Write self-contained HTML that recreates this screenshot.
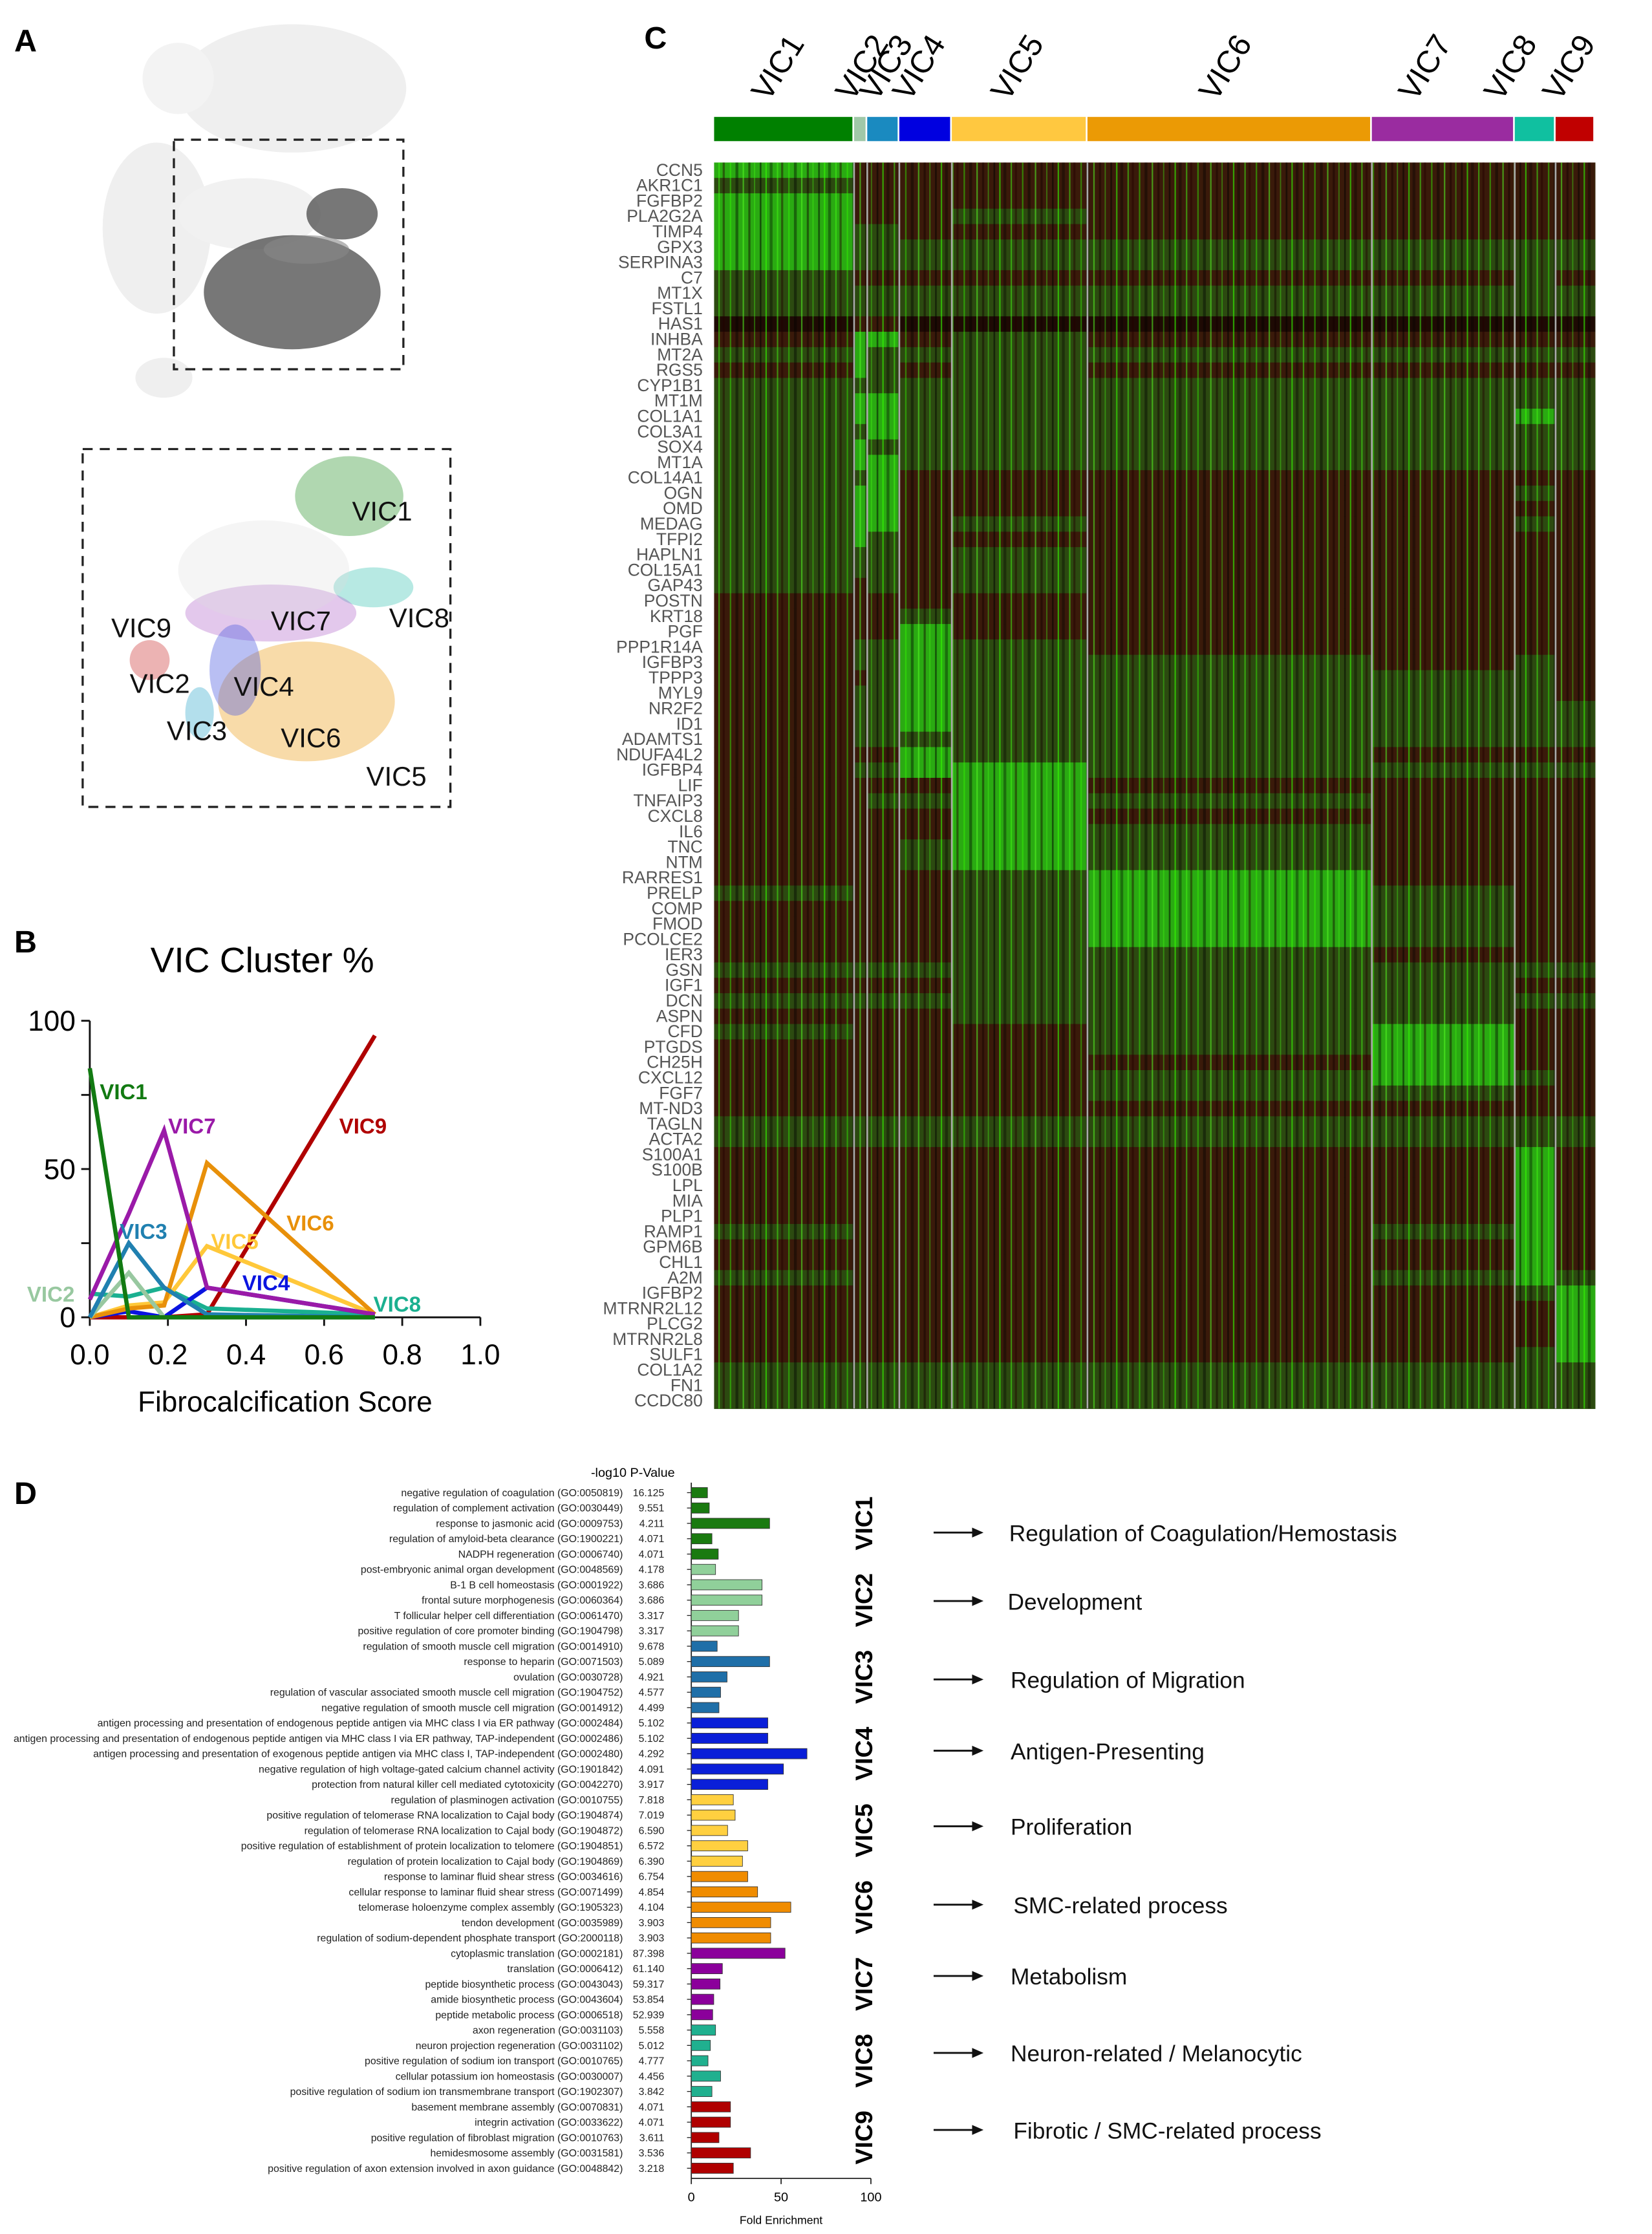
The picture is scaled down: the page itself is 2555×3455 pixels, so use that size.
<!DOCTYPE html>
<html><head><meta charset="utf-8"><style>
html,body{margin:0;padding:0;background:#fff}
svg{display:block}
text{font-family:"Liberation Sans",sans-serif}
</style></head><body>
<svg id="fig" xmlns="http://www.w3.org/2000/svg" width="2555" height="3455" viewBox="0 0 1159 1567" preserveAspectRatio="none">
<defs>
<pattern id="stripes" width="41" height="10.8" patternUnits="userSpaceOnUse">
<rect x="0" y="0" width="1.2" height="10.8" fill="#000" opacity="0.5"/>
<rect x="4" y="0" width="1" height="10.8" fill="#3f0" opacity="0.6"/>
<rect x="7" y="0" width="2" height="10.8" fill="#000" opacity="0.35"/>
<rect x="12" y="0" width="1" height="10.8" fill="#4f1" opacity="0.5"/>
<rect x="15" y="0" width="1.5" height="10.8" fill="#200" opacity="0.45"/>
<rect x="20" y="0" width="1" height="10.8" fill="#3f0" opacity="0.45"/>
<rect x="24" y="0" width="2" height="10.8" fill="#000" opacity="0.4"/>
<rect x="29" y="0" width="1" height="10.8" fill="#5f2" opacity="0.55"/>
<rect x="33" y="0" width="1.5" height="10.8" fill="#100" opacity="0.45"/>
<rect x="37" y="0" width="0.8" height="10.8" fill="#4f1" opacity="0.4"/>
</pattern>
</defs>

<g>
<text x="10" y="36" font-size="22" font-weight="bold">A</text>
<g>
<ellipse cx="205" cy="62" rx="80" ry="45" fill="#efefef"/>
<ellipse cx="125" cy="55" rx="25" ry="25" fill="#f3f3f3"/>
<ellipse cx="110" cy="160" rx="38" ry="60" fill="#efefef"/>
<ellipse cx="175" cy="150" rx="50" ry="25" fill="#f1f1f1"/>
<ellipse cx="115" cy="265" rx="20" ry="14" fill="#efefef"/>
<ellipse cx="205" cy="205" rx="62" ry="40" fill="#555" opacity="0.8"/>
<ellipse cx="240" cy="150" rx="25" ry="18" fill="#555" opacity="0.8"/>
<ellipse cx="215" cy="175" rx="30" ry="10" fill="#888" opacity="0.6"/>
<rect x="122" y="98" width="161" height="161" fill="none" stroke="#222" stroke-width="1.5" stroke-dasharray="7,5"/>
</g>
<g>
<ellipse cx="245" cy="348" rx="38" ry="28" fill="#3a9a3a" opacity="0.4"/>
<ellipse cx="262" cy="412" rx="28" ry="14" fill="#30c0b0" opacity="0.35"/>
<ellipse cx="190" cy="430" rx="60" ry="20" fill="#b060c8" opacity="0.35"/>
<ellipse cx="215" cy="492" rx="62" ry="42" fill="#f0b040" opacity="0.45"/>
<ellipse cx="165" cy="470" rx="18" ry="32" fill="#5060e0" opacity="0.4"/>
<ellipse cx="105" cy="463" rx="14" ry="14" fill="#d04040" opacity="0.4"/>
<ellipse cx="140" cy="500" rx="10" ry="18" fill="#40b0d0" opacity="0.4"/>
<ellipse cx="185" cy="400" rx="60" ry="35" fill="#ddd" opacity="0.3"/>
<rect x="58" y="315" width="258" height="251" fill="none" stroke="#222" stroke-width="1.5" stroke-dasharray="7,5"/>
<g font-size="19" fill="#111">
<text x="247" y="365">VIC1</text>
<text x="273" y="440">VIC8</text>
<text x="78" y="447">VIC9</text>
<text x="190" y="442">VIC7</text>
<text x="91" y="486">VIC2</text>
<text x="164" y="488">VIC4</text>
<text x="117" y="519">VIC3</text>
<text x="197" y="524">VIC6</text>
<text x="257" y="551">VIC5</text>
</g>
</g>
</g>

<g id="panelB">
<text x="10" y="668" font-size="22" font-weight="bold">B</text>
<text x="184" y="682" font-size="25" text-anchor="middle">VIC Cluster %</text>
<text x="200" y="990" font-size="20" text-anchor="middle">Fibrocalcification Score</text>
</g>

<g id="panelC">
<text x="452" y="34" font-size="22" font-weight="bold">C</text>
</g>

<g id="panelD">
<text x="10" y="1055" font-size="22" font-weight="bold">D</text>
<text x="444" y="1036" font-size="9" text-anchor="middle">-log10 P-Value</text>
</g>

<script>
const bScores = [0, 0.1, 0.19, 0.3, 0.73];
const bTicksX = [0, 0.2, 0.4, 0.6, 0.8, 1.0];
const bTickLabelsX = ["0.0","0.2","0.4","0.6","0.8","1.0"];
const bTicksY = [0, 25, 50, 75, 100];
const bTickLabelsY = ["0","","50","","100"];
const bVIC1 = [84, 0, 0, 0, 0];
const bVIC2 = [0, 15, 0, 0, 0];
const bVIC3 = [0, 25, 10, 1, 0];
const bVIC4 = [0, 2, 0, 10, 1];
const bVIC5 = [0, 4, 5, 24, 1];
const bVIC6 = [0, 3, 4, 52, 1];
const bVIC7 = [6, 35, 63, 10, 1];
const bVIC8 = [8, 7, 10, 3, 1];
const bVIC9 = [0, 0, 0, 1, 95];

const cClusters = ["VIC1","VIC2","VIC3","VIC4","VIC5","VIC6","VIC7","VIC8","VIC9"];
const cClusterCells = [96, 9, 22, 36, 93, 195, 98, 28, 27];
const cGenes = ["CCN5","AKR1C1","FGFBP2","PLA2G2A","TIMP4","GPX3","SERPINA3","C7","MT1X","FSTL1","HAS1","INHBA","MT2A","RGS5","CYP1B1","MT1M","COL1A1","COL3A1","SOX4","MT1A","COL14A1","OGN","OMD","MEDAG","TFPI2","HAPLN1","COL15A1","GAP43","POSTN","KRT18","PGF","PPP1R14A","IGFBP3","TPPP3","MYL9","NR2F2","ID1","ADAMTS1","NDUFA4L2","IGFBP4","LIF","TNFAIP3","CXCL8","IL6","TNC","NTM","RARRES1","PRELP","COMP","FMOD","PCOLCE2","IER3","GSN","IGF1","DCN","ASPN","CFD","PTGDS","CH25H","CXCL12","FGF7","MT-ND3","TAGLN","ACTA2","S100A1","S100B","LPL","MIA","PLP1","RAMP1","GPM6B","CHL1","A2M","IGFBP2","MTRNR2L12","PLCG2","MTRNR2L8","SULF1","COL1A2","FN1","CCDC80"];
const cLevels = ["311111111","211111111","311111111","311121111","322111111","322222222","322222222","211111121","222222222","222222222","011000000","133121111","232222222","132121111","222222222","233222222","233222232","223222222","232222222","233222222","223111111","233111121","233111111","233121121","232111111","222121111","222121111","212121111","111111111","111211111","111311111","122321111","122322121","112322221","122322221","122322222","122322222","122222222","111322111","122332222","111131111","112232111","111131111","111132111","111232111","111232111","111123111","211123211","111123211","111123211","111123211","111122111","222222222","111122211","222222222","111122211","211112311","111112311","111111311","111112321","111112211","111111111","222222222","222222222","111111131","111111131","111111131","111111131","111111131","211111231","111111131","111111131","211111232","111111123","111111113","111111113","111111113","111111123","222222222","222222222","222222222"];

const dTerms = ["negative regulation of coagulation (GO:0050819)","regulation of complement activation (GO:0030449)","response to jasmonic acid (GO:0009753)","regulation of amyloid-beta clearance (GO:1900221)","NADPH regeneration (GO:0006740)","post-embryonic animal organ development (GO:0048569)","B-1 B cell homeostasis (GO:0001922)","frontal suture morphogenesis (GO:0060364)","T follicular helper cell differentiation (GO:0061470)","positive regulation of core promoter binding (GO:1904798)","regulation of smooth muscle cell migration (GO:0014910)","response to heparin (GO:0071503)","ovulation (GO:0030728)","regulation of vascular associated smooth muscle cell migration (GO:1904752)","negative regulation of smooth muscle cell migration (GO:0014912)","antigen processing and presentation of endogenous peptide antigen via MHC class I via ER pathway (GO:0002484)","antigen processing and presentation of endogenous peptide antigen via MHC class I via ER pathway, TAP-independent (GO:0002486)","antigen processing and presentation of exogenous peptide antigen via MHC class I, TAP-independent (GO:0002480)","negative regulation of high voltage-gated calcium channel activity (GO:1901842)","protection from natural killer cell mediated cytotoxicity (GO:0042270)","regulation of plasminogen activation (GO:0010755)","positive regulation of telomerase RNA localization to Cajal body (GO:1904874)","regulation of telomerase RNA localization to Cajal body (GO:1904872)","positive regulation of establishment of protein localization to telomere (GO:1904851)","regulation of protein localization to Cajal body (GO:1904869)","response to laminar fluid shear stress (GO:0034616)","cellular response to laminar fluid shear stress (GO:0071499)","telomerase holoenzyme complex assembly (GO:1905323)","tendon development (GO:0035989)","regulation of sodium-dependent phosphate transport (GO:2000118)","cytoplasmic translation (GO:0002181)","translation (GO:0006412)","peptide biosynthetic process (GO:0043043)","amide biosynthetic process (GO:0043604)","peptide metabolic process (GO:0006518)","axon regeneration (GO:0031103)","neuron projection regeneration (GO:0031102)","positive regulation of sodium ion transport (GO:0010765)","cellular potassium ion homeostasis (GO:0030007)","positive regulation of sodium ion transmembrane transport (GO:1902307)","basement membrane assembly (GO:0070831)","integrin activation (GO:0033622)","positive regulation of fibroblast migration (GO:0010763)","hemidesmosome assembly (GO:0031581)","positive regulation of axon extension involved in axon guidance (GO:0048842)"];
const dPvals = ["16.125","9.551","4.211","4.071","4.071","4.178","3.686","3.686","3.317","3.317","9.678","5.089","4.921","4.577","4.499","5.102","5.102","4.292","4.091","3.917","7.818","7.019","6.590","6.572","6.390","6.754","4.854","4.104","3.903","3.903","87.398","61.140","59.317","53.854","52.939","5.558","5.012","4.777","4.456","3.842","4.071","4.071","3.611","3.536","3.218"];
const dFold = [9,10,43.6,11.5,15,13.5,39.4,39.4,26.3,26.3,14.4,43.6,19.9,16.3,15.4,42.6,42.6,64.4,51.3,42.6,23.4,24.4,20.2,31.4,28.5,31.4,36.9,55.4,44.2,44.2,52.2,17.3,16,12.5,11.9,13.5,10.6,9.3,16.3,11.5,21.8,21.8,15.4,33,23.4];
const dGroup = [0,0,0,0,0,1,1,1,1,1,2,2,2,2,2,3,3,3,3,3,4,4,4,4,4,5,5,5,5,5,6,6,6,6,6,7,7,7,7,7,8,8,8,8,8];
const dTicks = [0, 50, 100];
const dProcesses = ["Regulation of Coagulation/Hemostasis","Development","Regulation of Migration","Antigen-Presenting","Proliferation","SMC-related process","Metabolism","Neuron-related / Melanocytic","Fibrotic / SMC-related process"];

const NS = "http://www.w3.org/2000/svg";
function mk(tag, attrs, parent, txt){
  const e = document.createElementNS(NS, tag);
  for (const k in attrs) e.setAttribute(k, attrs[k]);
  if (txt !== undefined) e.textContent = txt;
  parent.appendChild(e);
  return e;
}

(function(){
  const g = document.getElementById('panelB');
  const x0 = 63, x1 = 337, y0 = 924, y1 = 716;
  const sx = v => x0 + (x1 - x0) * v;
  const sy = v => y0 - (y0 - y1) * v / 100;
  let ax = mk('line', {x1:x0, y1:y1, x2:x0, y2:y0, stroke:'#111', 'stroke-width':1.3}, g);
  
  
  let bx = mk('line', {x1:x0, y1:y0, x2:x1, y2:y0, stroke:'#111', 'stroke-width':1.3}, g);
  
  
  bTicksY.forEach((t, i) => {
    mk('line', {x1:x0-6, y1:sy(t), x2:x0, y2:sy(t), stroke:'#111', 'stroke-width':1.3}, g);
    if (bTickLabelsY[i]) {
      const tl = mk('text', {x:x0-10, y:sy(t)+7, 'font-size':20, 'text-anchor':'end'}, g, bTickLabelsY[i]);
      
      
    }
  });
  bTicksX.forEach((t, i) => {
    mk('line', {x1:sx(t), y1:y0, x2:sx(t), y2:y0+6, stroke:'#111', 'stroke-width':1.3}, g);
    const tl = mk('text', {x:sx(t), y:y0+33, 'font-size':20, 'text-anchor':'middle'}, g, bTickLabelsX[i]);
    
    
  });
  const series = [
    ['vic9', bVIC9, '#b00000'], ['vic8', bVIC8, '#1ab090'], ['vic4', bVIC4, '#0a14e0'],
    ['vic5', bVIC5, '#ffc83a'], ['vic6', bVIC6, '#e8900a'], ['vic2', bVIC2, '#98c8a0'],
    ['vic3', bVIC3, '#2080b0'], ['vic7', bVIC7, '#9a1aa8'], ['vic1', bVIC1, '#127a12']
  ];
  series.forEach(s => {
    const pts = s[1].map((v, i) => sx(bScores[i]).toFixed(1) + ',' + sy(v).toFixed(1)).join(' ');
    const pl = mk('polyline', {points:pts, fill:'none', stroke:s[2], 'stroke-width':3, 'stroke-linejoin':'miter'}, g);
    
    
  });
  const labs = [['VIC1',70,771,'#127a12'],['VIC7',118,795,'#9a1aa8'],['VIC9',238,795,'#b00000'],['VIC3',84,869,'#2080b0'],['VIC5',148,876,'#ffc83a'],['VIC6',201,863,'#e8900a'],['VIC4',170,905,'#0a14e0'],['VIC2',19,913,'#98c8a0'],['VIC8',262,920,'#1ab090']];
  labs.forEach(l => {
    const t = mk('text', {x:l[1], y:l[2], 'font-size':15, 'font-weight':'bold', fill:l[3]}, g, l[0]);
    
    
  });
})();

(function(){
  const g = document.getElementById('panelC');
  const barColors = ['#008000','#a0c8a8','#1a8ac0','#0000e0','#ffc840','#eb9a05','#9a2ca0','#10c0a0','#c00000'];
  const hx0 = 501, hx1 = 1119, hy0 = 114, hy1 = 988;
  const total = cClusterCells.reduce((a,b)=>a+b,0);
  const colX = c => hx0 + (hx1 - hx0) * c / total;
  const rowH = (hy1 - hy0) / cGenes.length;
  const levelColors = ['#1e0a04','#3a1a0a','#2c4a10','#2aaa12'];
  let cum = 0;
  const bounds = [];
  cClusters.forEach((cl, i) => {
    const xa = colX(cum), xb = colX(cum + cClusterCells[i]);
    bounds.push([xa, xb]);
    const r = mk('rect', {x:xa, y:82, width:Math.max(xb-xa-1.2,1), height:17, fill:barColors[i]}, g);
    
    
    cum += cClusterCells[i];
  });
  const hdrX = [539,598,615,638,707,853,993,1053,1094];
  cClusters.forEach((cl, i) => {
    const t = mk('text', {x:hdrX[i], y:72, 'font-size':22, transform:'rotate(-58 '+hdrX[i]+' 72)'}, g, cl);
    
    
  });
  const hm = mk('g', {}, g);
  
  
  cGenes.forEach((gene, r) => {
    const y = hy0 + r * rowH;
    cClusters.forEach((cl, c) => {
      const lv = +cLevels[r][c];
      const cell = mk('rect', {x:bounds[c][0], y:y, width:bounds[c][1]-bounds[c][0]+0.3, height:rowH+0.3, fill:levelColors[lv]}, hm);
      
      
    });
    const lab = mk('text', {x:493, y:y+rowH-1.5, 'font-size':12, 'text-anchor':'end', fill:'#555', 'font-family':'"Liberation Sans Narrow","Liberation Sans",sans-serif'}, g, gene);
    
    
  });
  mk('rect', {x:hx0, y:hy0, width:hx1-hx0, height:hy1-hy0, fill:'url(#stripes)'}, g);
  bounds.slice(1).forEach(b => {
    const sep = mk('line', {x1:b[0], y1:hy0, x2:b[0], y2:hy1, stroke:'#aaa', 'stroke-width':1.2}, g);
    
    
  });
})();

(function(){
  const g = document.getElementById('panelD');
  const colors = ['#1a7a10','#90d09a','#1f6fa8','#0a1fd8','#ffd040','#f08c00','#8b009b','#20b08f','#b00000'];
  const ax0 = 485, ax1 = 611, yTop = 1047, step = 10.77, axisY = 1528;
  const sx = v => ax0 + (ax1 - ax0) * v / 100;
  const rowY = i => yTop + i * step;
  mk('line', {x1:ax0, y1:1040, x2:ax0, y2:axisY, stroke:'#222', 'stroke-width':0.8}, g);
  mk('line', {x1:ax0, y1:axisY, x2:ax1, y2:axisY, stroke:'#222', 'stroke-width':0.8}, g);
  dTicks.forEach(t => {
    mk('line', {x1:sx(t), y1:axisY, x2:sx(t), y2:axisY+4, stroke:'#222', 'stroke-width':0.8}, g);
    const tl = mk('text', {x:sx(t), y:axisY+16, 'font-size':9, 'text-anchor':'middle'}, g, String(t));
    
    
  });
  const xt = mk('text', {x:sx(50), y:1560, 'font-size':8, 'text-anchor':'middle'}, g, 'Fold Enrichment');
  
  
  dTerms.forEach((term, i) => {
    const y = rowY(i);
    const t = mk('text', {x:437, y:y+2.5, 'font-size':7.2, 'text-anchor':'end', fill:'#222'}, g, term);
    
    
    const p = mk('text', {x:466, y:y+2.5, 'font-size':7.2, 'text-anchor':'end', fill:'#222'}, g, dPvals[i]);
    
    
    mk('line', {x1:ax0-3, y1:y, x2:ax0, y2:y, stroke:'#222', 'stroke-width':0.6}, g);
    const b = mk('rect', {x:ax0, y:y-3.6, width:sx(dFold[i])-ax0, height:7.2, fill:colors[dGroup[i]], stroke:'#333', 'stroke-width':0.4}, g);
    
    
  });
  for (let k = 0; k < 9; k++) {
    const cy = (rowY(k*5) + rowY(k*5+4)) / 2;
    const t = mk('text', {x:612, y:cy, 'font-size':17, 'font-weight':'bold', 'text-anchor':'middle', transform:'rotate(-90 612 '+cy+')'}, g, 'VIC' + (k+1));
    
    
  }
  const arrowY = [1075,1123,1178,1228,1281,1336,1386,1440,1494];
  const textX = [708,707,709,709,709,711,709,709,711];
  dProcesses.forEach((p, i) => {
    const y = arrowY[i];
    const a = mk('g', {}, g);
    
    
    mk('line', {x1:655, y1:y, x2:684, y2:y, stroke:'#111', 'stroke-width':1.3}, a);
    mk('polygon', {points:(690)+','+y+' '+(682)+','+(y-3.5)+' '+(682)+','+(y+3.5), fill:'#111'}, a);
    const t = mk('text', {x:textX[i], y:y+6, 'font-size':16, fill:'#111'}, g, p);
    
    
  });
})();
</script>
</svg>
</body></html>
